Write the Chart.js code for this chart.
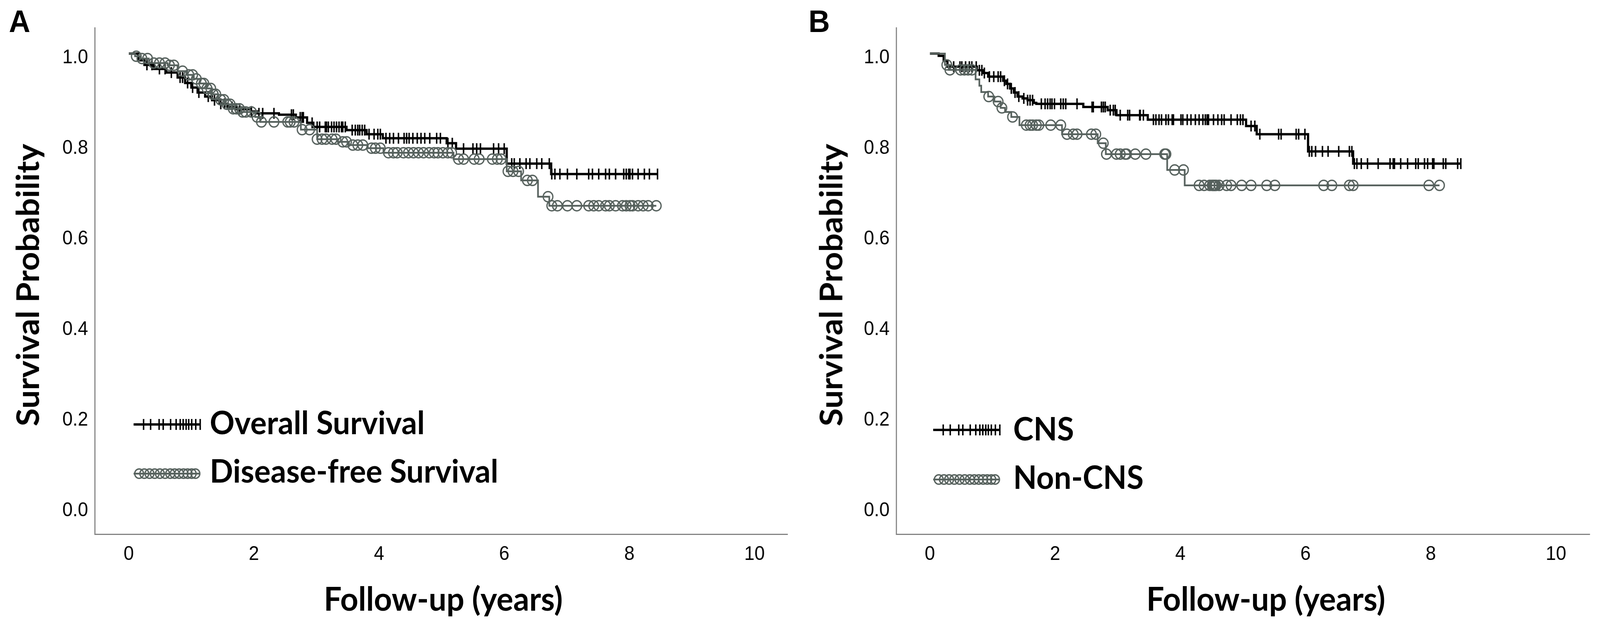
<!DOCTYPE html>
<html>
<head>
<meta charset="utf-8">
<script src="https://cdn.jsdelivr.net/npm/chart.js@4.4.0/dist/chart.umd.min.js"></script>
<style>
  html, body { margin: 0; padding: 0; background: #fff; overflow: hidden; }
  #page { position: relative; width: 4324px; height: 1616px; overflow: hidden; background: #fff; transform-origin: 0 0; }
  #page canvas { position: absolute; top: 0; }
  .txt { position: absolute; font-family: Lato, "Open Sans", sans-serif; font-weight: 700; color: #000; white-space: nowrap; line-height: 1; }
  .xtitle { font-size: 85px; width: 1200px; text-align: center; }
  .ytitle { font-size: 84px; width: 1000px; height: 84px; line-height: 84px; text-align: center; transform: rotate(-90deg); }
  .leg { font-size: 83px; }
  .panel { position: absolute; font-family: "Liberation Sans", Arial, sans-serif; font-weight: 700; font-size: 80px; line-height: 1; }
</style>
</head>
<body>
<div id="page">
  <canvas id="chartA" width="2162" height="1616" style="left:0"></canvas>
  <canvas id="chartB" width="2162" height="1616" style="left:2162px"></canvas>

  <div class="panel" style="left:24px;top:15px">A</div>
  <div class="panel" style="left:2185px;top:15px">B</div>

  <div class="txt ytitle" style="left:-427px;top:688px">Survival Probability</div>
  <div class="txt ytitle" style="left:1744px;top:688px">Survival Probability</div>
  <div class="txt xtitle" style="left:598px;top:1489px">Follow-up (years)</div>
  <div class="txt xtitle" style="left:2821px;top:1489px">Follow-up (years)</div>

  <canvas id="symA1" width="190" height="40" style="left:356px;top:1067px"></canvas>
  <canvas id="symA2" width="190" height="40" style="left:356px;top:1193px"></canvas>
  <canvas id="symB1" width="190" height="40" style="left:2517px;top:1081px"></canvas>
  <canvas id="symB2" width="190" height="40" style="left:2517px;top:1208px"></canvas>
  <div class="txt leg" id="legA1" style="left:567px;top:1039px"></div>
  <div class="txt leg" id="legA2" style="left:567px;top:1163px"></div>
  <div class="txt leg" id="legB1" style="left:2738px;top:1055px"></div>
  <div class="txt leg" id="legB2" style="left:2738px;top:1179px"></div>
</div>

<script>
// panel A: overall survival vs disease-free survival (Kaplan-Meier steps)
const osTimes = [0, 0.15, 0.25, 0.40, 0.60, 0.78, 0.90, 1.00, 1.10, 1.22, 1.33, 1.45, 1.58, 1.72, 1.95, 2.05, 2.40, 2.67, 2.85, 2.95, 3.48, 3.80, 4.06, 5.08, 5.23, 6.04, 6.75];
const osSurv = [1.000, 0.985, 0.975, 0.966, 0.958, 0.947, 0.935, 0.925, 0.914, 0.905, 0.897, 0.889, 0.882, 0.877, 0.872, 0.868, 0.865, 0.859, 0.847, 0.838, 0.831, 0.822, 0.813, 0.802, 0.790, 0.757, 0.734];
const osCensor = [0.29, 0.37, 0.49, 0.58, 0.68, 0.82, 0.86, 0.94, 1.02, 1.12, 1.27, 1.37, 1.47, 1.53, 1.65, 1.77, 1.96, 2.08, 2.14, 2.32,
  2.60, 2.63, 2.74, 2.77, 2.79, 2.93, 3.01, 3.05, 3.14, 3.16, 3.19, 3.24, 3.28, 3.32, 3.36, 3.40, 3.42, 3.46, 3.57, 3.62, 3.66, 3.69,
  3.73, 3.77, 3.84, 3.92, 3.98, 4.02, 4.11, 4.17, 4.23, 4.31, 4.40, 4.44, 4.48, 4.54, 4.61, 4.67, 4.73, 4.81, 4.92, 4.98, 5.10, 5.17,
  5.35, 5.50, 5.56, 5.62, 5.83, 5.91, 6.00, 6.12, 6.16, 6.25, 6.35, 6.41, 6.52, 6.60, 6.72, 6.76, 6.81, 6.89, 7.01, 7.16, 7.35, 7.41,
  7.51, 7.62, 7.68, 7.78, 7.91, 7.95, 7.99, 8.01, 8.05, 8.14, 8.24, 8.32, 8.45];

const dfsTimes = [0, 0.10, 0.18, 0.32, 0.62, 0.78, 0.92, 1.04, 1.14, 1.24, 1.33, 1.43, 1.53, 1.65, 1.80, 2.02, 2.10, 2.75, 3.01, 3.34, 3.52, 3.82, 4.07, 5.19, 6.04, 6.27, 6.54, 6.72];
const dfsSurv = [1.000, 0.994, 0.989, 0.979, 0.974, 0.961, 0.953, 0.944, 0.934, 0.923, 0.910, 0.898, 0.888, 0.878, 0.871, 0.860, 0.849, 0.832, 0.811, 0.805, 0.798, 0.791, 0.781, 0.767, 0.740, 0.720, 0.684, 0.664];
const dfsCensor = [0.12, 0.21, 0.30, 0.40, 0.49, 0.58, 0.65, 0.72, 0.86, 0.96, 1.02, 1.08, 1.16, 1.20, 1.25, 1.31, 1.35, 1.39, 1.47, 1.52,
  1.57, 1.62, 1.67, 1.72, 1.77, 1.82, 1.87, 1.96, 2.05, 2.12, 2.32, 2.54, 2.58, 2.64, 2.77, 2.89, 3.01, 3.09, 3.15, 3.25, 3.31, 3.42,
  3.48, 3.58, 3.66, 3.74, 3.88, 3.94, 4.02, 4.15, 4.23, 4.29, 4.39, 4.47, 4.55, 4.63, 4.71, 4.80, 4.88, 4.94, 5.02, 5.10, 5.16, 5.27,
  5.35, 5.52, 5.60, 5.81, 5.89, 5.95, 6.06, 6.14, 6.23, 6.37, 6.45, 6.70, 6.76, 6.85, 7.01, 7.16, 7.35, 7.43, 7.51, 7.62, 7.68, 7.78,
  7.89, 7.95, 8.01, 8.05, 8.14, 8.22, 8.30, 8.43];

// panel B: CNS vs non-CNS
const cnsTimes = [0, 0.14, 0.22, 0.28, 0.75, 0.85, 0.93, 1.17, 1.22, 1.28, 1.34, 1.40, 1.48, 1.56, 1.66, 1.70, 2.45, 2.84, 2.98, 3.48, 5.05, 5.22, 6.04, 6.76];
const cnsSurv = [1.000, 0.995, 0.984, 0.971, 0.963, 0.957, 0.949, 0.940, 0.933, 0.923, 0.914, 0.905, 0.901, 0.897, 0.891, 0.889, 0.882, 0.875, 0.864, 0.854, 0.840, 0.822, 0.784, 0.757];
const cnsCensor = [0.38, 0.48, 0.51, 0.57, 0.63, 0.67, 0.74, 0.79, 0.83, 0.87, 0.95, 1.02, 1.09, 1.13, 1.19, 1.24, 1.30, 1.36, 1.42, 1.50,
  1.56, 1.60, 1.64, 1.78, 1.84, 1.88, 1.92, 1.95, 1.99, 2.09, 2.13, 2.17, 2.35, 2.59, 2.61, 2.74, 2.77, 2.80, 2.88, 2.93, 2.96, 3.04,
  3.16, 3.19, 3.35, 3.36, 3.41, 3.57, 3.61, 3.66, 3.70, 3.77, 3.81, 3.87, 3.89, 4.01, 4.04, 4.11, 4.17, 4.24, 4.30, 4.36, 4.40, 4.43,
  4.45, 4.53, 4.60, 4.66, 4.70, 4.81, 4.91, 4.96, 5.00, 5.13, 5.19, 5.27, 5.57, 5.61, 5.85, 5.89, 5.99, 6.06, 6.10, 6.16, 6.27, 6.36,
  6.53, 6.70, 6.74, 6.78, 6.82, 6.89, 6.99, 7.16, 7.35, 7.40, 7.42, 7.52, 7.63, 7.76, 7.80, 7.90, 7.95, 8.03, 8.05, 8.20, 8.24, 8.43, 8.48];

const nonCnsTimes = [0, 0.24, 0.30, 0.73, 0.79, 0.82, 0.93, 1.03, 1.13, 1.20, 1.30, 1.43, 2.11, 2.68, 2.81, 3.79, 4.07];
const nonCnsSurv = [1.000, 0.975, 0.964, 0.943, 0.929, 0.915, 0.905, 0.894, 0.880, 0.871, 0.860, 0.842, 0.822, 0.802, 0.778, 0.743, 0.709];
const nonCnsCensor = [0.27, 0.32, 0.49, 0.55, 0.61, 0.67, 0.94, 1.09, 1.15, 1.32, 1.54, 1.60, 1.64, 1.70, 1.74, 1.93, 2.09, 2.19, 2.29,
  2.35, 2.58, 2.65, 2.77, 2.82, 2.98, 3.04, 3.12, 3.14, 3.28, 3.45, 3.75, 3.77, 3.91, 4.05, 4.30, 4.38, 4.47, 4.51, 4.53, 4.55, 4.57,
  4.62, 4.74, 4.81, 4.98, 5.13, 5.38, 5.51, 6.29, 6.42, 6.70, 6.76, 7.97, 8.14];

const xTickVals = [0, 2, 4, 6, 8, 10];
const yTickVals = [0, 0.2, 0.4, 0.6, 0.8, 1.0];
const seriesNames = ["Overall Survival", "Disease-free Survival", "CNS", "Non-CNS"];

const BLACK = "#000000";
const GREY = "#56615d";
const AXIS = "#828282";
const TICK_FONT = '"Liberation Sans", Arial, sans-serif';

// the page is laid out at 4324x1616; stretch it onto whatever viewport we get
const page = document.getElementById("page");
const sx = window.innerWidth / 4324;
const sy = window.innerHeight / 1616;
if (sx !== 1 || sy !== 1) page.style.transform = "scale(" + sx + "," + sy + ")";

// value of the step curve at time t
function levelAt(times, surv, t) {
  let s = surv[0];
  for (let i = 0; i < times.length; i++) {
    if (times[i] <= t) s = surv[i];
  }
  return s;
}

function stepPoints(times, surv, censor) {
  const pts = times.map((t, i) => ({ x: t, y: surv[i] }));
  pts.push({ x: Math.max(...censor), y: surv[surv.length - 1] });
  return pts;
}

function censorPoints(times, surv, censor) {
  return censor.map(t => ({ x: t, y: levelAt(times, surv, t) }));
}

function kmChart(id, black, grey, box) {
  const ctx = document.getElementById(id);
  return new Chart(ctx, {
    type: "scatter",
    data: {
      datasets: [
        {
          data: censorPoints(grey.times, grey.surv, grey.censor),
          showLine: false,
          pointStyle: "circle",
          pointRadius: 13,
          pointBorderWidth: 3.5,
          pointBorderColor: GREY,
          pointBackgroundColor: "rgba(0,0,0,0)"
        },
        {
          data: stepPoints(grey.times, grey.surv, grey.censor),
          showLine: true,
          stepped: true,
          borderColor: GREY,
          borderWidth: 4.5,
          pointRadius: 0
        },
        {
          data: censorPoints(black.times, black.surv, black.censor),
          showLine: false,
          pointStyle: "line",
          pointRotation: 90,
          pointRadius: 14,
          pointBorderWidth: 4,
          pointBorderColor: BLACK
        },
        {
          data: stepPoints(black.times, black.surv, black.censor),
          showLine: true,
          stepped: true,
          borderColor: BLACK,
          borderWidth: 6,
          pointRadius: 0
        }
      ]
    },
    options: {
      responsive: false,
      animation: false,
      devicePixelRatio: Math.max(1, window.devicePixelRatio || 1),
      events: [],
      layout: { padding: { top: 71, right: box.right, left: 0, bottom: 0 } },
      plugins: { legend: { display: false }, tooltip: { enabled: false } },
      scales: {
        x: {
          type: "linear",
          min: box.xmin,
          max: box.xmax,
          grid: { display: false, drawTicks: false },
          border: { display: true, color: AXIS, width: 3 },
          ticks: { autoSkip: false, maxRotation: 0, padding: 22, color: "#000", font: { family: TICK_FONT, size: 50 }, callback: v => String(v) },
          afterBuildTicks: s => { s.ticks = xTickVals.map(v => ({ value: v })); },
          afterFit: s => { s.height = 248; }
        },
        y: {
          type: "linear",
          min: -0.061,
          max: 1.057,
          grid: { display: false, drawTicks: false },
          border: { display: true, color: AXIS, width: 3 },
          ticks: { autoSkip: false, padding: 18, labelOffset: 11, color: "#000", font: { family: TICK_FONT, size: 50 }, callback: v => v.toFixed(1) },
          afterBuildTicks: s => { s.ticks = yTickVals.map(v => ({ value: v })); },
          afterFit: s => { s.width = box.yw; }
        }
      }
    }
  });
}

kmChart("chartA",
  { times: osTimes, surv: osSurv, censor: osCensor },
  { times: dfsTimes, surv: dfsSurv, censor: dfsCensor },
  { right: 34, yw: 256, xmin: -0.544, xmax: 10.526 });

kmChart("chartB",
  { times: cnsTimes, surv: cnsSurv, censor: cnsCensor },
  { times: nonCnsTimes, surv: nonCnsSurv, censor: nonCnsCensor },
  { right: 28, yw: 260, xmin: -0.538, xmax: 10.538 });

// legend
document.getElementById("legA1").textContent = seriesNames[0];
document.getElementById("legA2").textContent = seriesNames[1];
document.getElementById("legB1").textContent = seriesNames[2];
document.getElementById("legB2").textContent = seriesNames[3];

function drawTickSymbol(id) {
  const c = document.getElementById(id).getContext("2d");
  c.strokeStyle = BLACK;
  c.lineWidth = 6;
  c.beginPath(); c.moveTo(5, 20); c.lineTo(185, 20); c.stroke();
  c.lineWidth = 4;
  [27, 46, 69, 80, 100, 115, 126, 134, 142, 149, 157, 168, 180].forEach(x => {
    c.beginPath(); c.moveTo(x + 5, 6); c.lineTo(x + 5, 34); c.stroke();
  });
}

function drawCircleSymbol(id) {
  const c = document.getElementById(id).getContext("2d");
  c.strokeStyle = GREY;
  c.lineWidth = 4.5;
  c.beginPath(); c.moveTo(5, 20); c.lineTo(185, 20); c.stroke();
  c.lineWidth = 3.5;
  [20, 34, 48, 62, 76, 90, 104, 116, 128, 140, 151, 162, 172].forEach(x => {
    c.beginPath(); c.arc(x, 20, 12, 0, Math.PI * 2); c.stroke();
  });
}

drawTickSymbol("symA1");
drawCircleSymbol("symA2");
drawTickSymbol("symB1");
drawCircleSymbol("symB2");
</script>
</body>
</html>
